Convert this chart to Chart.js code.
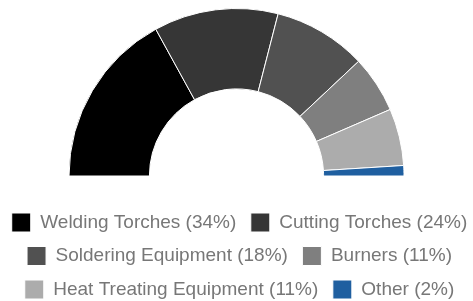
<!DOCTYPE html>
<html>
<head>
<meta charset="utf-8">
<script src="https://cdn.jsdelivr.net/npm/chart.js@4"></script>
<style>
  html, body { margin: 0; padding: 0; background: #fff; }
  #wrap { width: 473px; height: 301px; }
</style>
</head>
<body>
<div id="wrap"><canvas id="chart"></canvas></div>
<script>
// Market share by product type
const categories = ['Welding Torches', 'Cutting Torches', 'Soldering Equipment', 'Burners', 'Heat Treating Equipment', 'Other'];
const shares = [34, 24, 18, 11, 11, 2];
const colors = ['#000000', '#363636', '#515151', '#7f7f7f', '#acacac', '#1f5fa0'];

const labels = categories.map((c, i) => `${c} (${shares[i]}%)`);

new Chart(document.getElementById('chart'), {
    type: 'doughnut',
    data: {
        labels: labels,
        datasets: [{
            data: shares,
            backgroundColor: colors,
            borderColor: '#ffffff',
            borderWidth: 1
        }]
    },
    options: {
        responsive: true,
        maintainAspectRatio: false,
        animation: false,
        rotation: -90,
        circumference: 180,
        cutout: '52%',
        layout: {
            // negative sides let both legend items share a row like the original
            padding: { top: 8, left: -8, right: -14, bottom: -8 }
        },
        plugins: {
            legend: {
                position: 'bottom',
                title: {
                    display: true,
                    text: ' ',
                    font: { size: 10 },
                    padding: 5
                },
                labels: {
                    color: '#777777',
                    boxWidth: 19,
                    boxHeight: 19,
                    padding: 14.5,
                    font: { family: 'Liberation Sans, Arial, sans-serif', size: 19 }
                }
            },
            tooltip: { enabled: false }
        }
    }
});
</script>
</body>
</html>
